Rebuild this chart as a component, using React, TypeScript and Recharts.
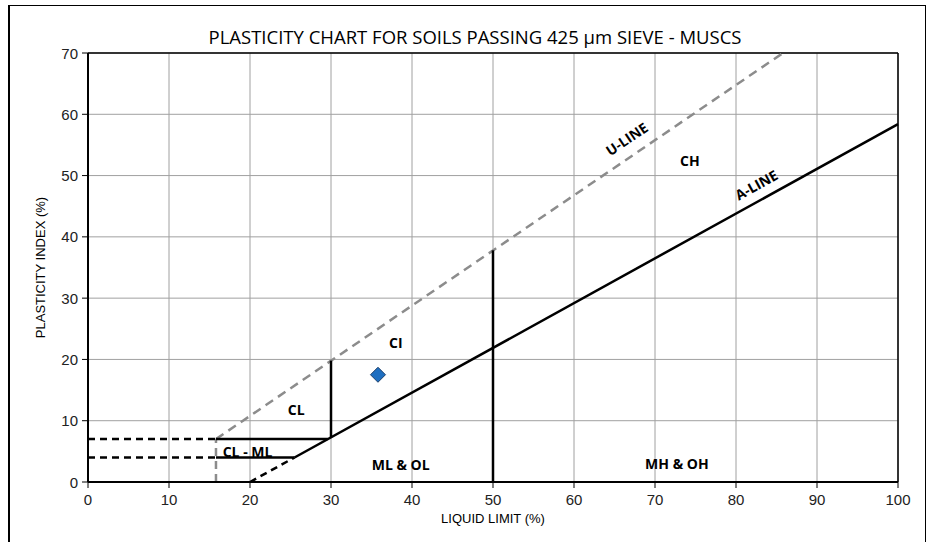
import React from 'react'
import {
  ComposedChart,
  Line,
  Scatter,
  XAxis,
  YAxis,
  CartesianGrid,
  ReferenceLine,
} from 'recharts'

// axis ticks
const xTicks = [0, 10, 20, 30, 40, 50, 60, 70, 80, 90, 100]
const yTicks = [0, 10, 20, 30, 40, 50, 60, 70]

// chart boundary lines (LL, PI)
const uLine = [{ ll: 15.8, pi: 7 }, { ll: 85.8, pi: 70 }]
const uLineFoot = [{ ll: 15.8, pi: 0 }, { ll: 15.8, pi: 7 }]
const aLine = [{ ll: 25.5, pi: 4 }, { ll: 100, pi: 58.4 }]
const aLineFoot = [{ ll: 20, pi: 0 }, { ll: 25.5, pi: 4 }]
const pi7Dashed = [{ ll: 0, pi: 7 }, { ll: 15.8, pi: 7 }]
const pi7Solid = [{ ll: 15.8, pi: 7 }, { ll: 29.6, pi: 7 }]
const pi4Dashed = [{ ll: 0, pi: 4 }, { ll: 15.8, pi: 4 }]
const pi4Solid = [{ ll: 15.8, pi: 4 }, { ll: 25.5, pi: 4 }]
const ll30 = [{ ll: 30, pi: 7.3 }, { ll: 30, pi: 19.8 }]
const ll50 = [{ ll: 50, pi: 0 }, { ll: 50, pi: 37.8 }]

// test result
const samples = [{ ll: 35.8, pi: 17.5 }]

// zone labels
const zoneLabels = [
  { ll: 25.7, pi: 11.9, text: 'CL' },
  { ll: 38.0, pi: 22.8, text: 'CI' },
  { ll: 74.3, pi: 52.4, text: 'CH' },
  { ll: 19.7, pi: 4.9, text: 'CL - ML' },
  { ll: 38.6, pi: 2.8, text: 'ML & OL' },
  { ll: 72.7, pi: 3.1, text: 'MH & OH' },
  { ll: 66.5, pi: 56.0, text: 'U-LINE' },
  { ll: 82.5, pi: 48.5, text: 'A-LINE' },
]

const labelAngle: Record<string, number> = { 'U-LINE': -34, 'A-LINE': -29 }

const ZoneLabel = (props: any) => {
  const { cx, cy, payload } = props
  const angle = labelAngle[payload.text] || 0
  return (
    <text
      x={cx}
      y={cy}
      textAnchor="middle"
      dominantBaseline="central"
      transform={`rotate(${angle} ${cx} ${cy})`}
      style={{ fontFamily: 'Open Sans', fontWeight: 700, fontSize: 14, fill: '#000' }}
    >
      {payload.text}
    </text>
  )
}

const Diamond = (props: any) => {
  const { cx, cy } = props
  const r = 7.5
  return (
    <path
      d={`M${cx},${cy - r} L${cx + r},${cy} L${cx},${cy + r} L${cx - r},${cy} Z`}
      fill="#1f6fc1"
      stroke="#1b3f6b"
      strokeWidth={1}
    />
  )
}

const tickFont = { fontFamily: 'Liberation Sans, Arial', fontSize: 15, fill: '#222' }
const axisTitleStyle = { fontFamily: 'Liberation Sans, Arial', fontSize: 13, fill: '#000' }

const XTick = (props: any) => {
  const { x, y, payload } = props
  return (
    <text x={x} y={y + 4} textAnchor="middle" dominantBaseline="hanging" style={tickFont}>
      {payload.value}
    </text>
  )
}

const YTick = (props: any) => {
  const { x, y, payload } = props
  return (
    <text x={x - 2} y={y} textAnchor="end" dominantBaseline="central" style={tickFont}>
      {payload.value}
    </text>
  )
}

export default function App() {
  const black = '#000'
  const grey = '#8c8c8c'
  return (
    <div style={{ position: 'absolute', left: 0, top: 0, width: 930, height: 542, background: '#fff', overflow: 'hidden' }}>
      <div
        style={{
          position: 'absolute',
          left: 8,
          top: 5,
          width: 915,
          height: 560,
          borderTop: '1px solid #000',
          borderRight: '1px solid #000',
          borderLeft: '2px solid #000',
        }}
      />
      <div
        style={{
          position: 'absolute',
          left: 0,
          width: 950,
          top: 24,
          textAlign: 'center',
          fontFamily: 'Open Sans',
          fontSize: 18.5,
          color: '#000',
        }}
      >
        PLASTICITY CHART FOR SOILS PASSING 425 μm SIEVE - MUSCS
      </div>
      <div style={{ position: 'absolute', left: 0, top: 0 }}>
        <ComposedChart width={930} height={542} margin={{ top: 53, right: 32, bottom: 30, left: 48 }}>
          <CartesianGrid stroke="#a0a0a0" strokeWidth={1} />
          <XAxis
            type="number"
            dataKey="ll"
            domain={[0, 100]}
            ticks={xTicks}
            interval={0}
            height={30}
            tick={XTick}
            tickSize={6}
            axisLine={{ stroke: black, strokeWidth: 2 }}
            tickLine={{ stroke: black }}
            label={{ value: 'LIQUID LIMIT (%)', position: 'bottom', offset: 2, style: axisTitleStyle }}
          />
          <YAxis
            type="number"
            dataKey="pi"
            domain={[0, 70]}
            ticks={yTicks}
            interval={0}
            width={40}
            tick={YTick}
            tickSize={6}
            axisLine={{ stroke: black, strokeWidth: 2 }}
            tickLine={{ stroke: black }}
            label={{
              value: 'PLASTICITY INDEX (%)',
              angle: -90,
              position: 'insideLeft',
              offset: -8,
              style: { ...axisTitleStyle, textAnchor: 'middle' },
            }}
          />
          <ReferenceLine y={70} stroke={black} strokeWidth={1.5} />
          <ReferenceLine x={100} stroke={black} strokeWidth={1.5} />
          <Line data={uLineFoot} dataKey="pi" stroke={grey} strokeWidth={2.5} strokeDasharray="8 5" dot={false} isAnimationActive={false} />
          <Line data={uLine} dataKey="pi" stroke={grey} strokeWidth={2.5} strokeDasharray="9 6" dot={false} isAnimationActive={false} />
          <Line data={aLineFoot} dataKey="pi" stroke={black} strokeWidth={2.5} strokeDasharray="7 5" dot={false} isAnimationActive={false} />
          <Line data={pi7Dashed} dataKey="pi" stroke={black} strokeWidth={2.5} strokeDasharray="7 5" dot={false} isAnimationActive={false} />
          <Line data={pi4Dashed} dataKey="pi" stroke={black} strokeWidth={2.5} strokeDasharray="7 5" dot={false} isAnimationActive={false} />
          <Line data={aLine} dataKey="pi" stroke={black} strokeWidth={2.5} dot={false} isAnimationActive={false} />
          <Line data={pi7Solid} dataKey="pi" stroke={black} strokeWidth={2.5} dot={false} isAnimationActive={false} />
          <Line data={pi4Solid} dataKey="pi" stroke={black} strokeWidth={2.5} dot={false} isAnimationActive={false} />
          <Line data={ll30} dataKey="pi" stroke={black} strokeWidth={2.5} dot={false} isAnimationActive={false} />
          <Line data={ll50} dataKey="pi" stroke={black} strokeWidth={2.5} dot={false} isAnimationActive={false} />
          <Scatter data={zoneLabels} shape={ZoneLabel} isAnimationActive={false} />
          <Scatter data={samples} shape={Diamond} isAnimationActive={false} />
        </ComposedChart>
      </div>
    </div>
  )
}
